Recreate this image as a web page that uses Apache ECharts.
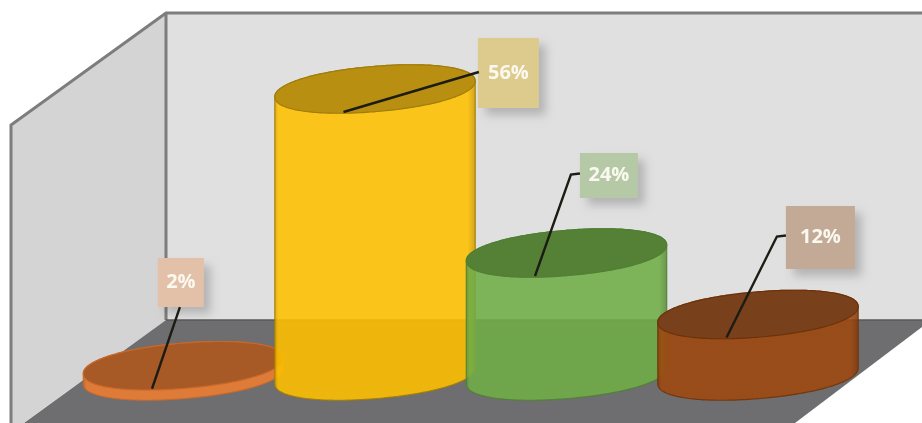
<!DOCTYPE html>
<html>
<head>
<meta charset="utf-8">
<style>
html,body{margin:0;padding:0;background:#fff;}
#c{width:922px;height:423px;filter:blur(0.7px);}
</style>
<script src="https://cdn.jsdelivr.net/npm/echarts@6/dist/echarts.min.js"></script>
</head>
<body>
<div id="c"></div>
<script>
const categories = ['A', 'B', 'C', 'D'];
const values = [2, 56, 24, 12];
const sideColors = ['#ed7d31', '#ffc000', '#70ad47', '#9e480e'];
const topColors = ['#a85a26', '#b98f12', '#558137', '#78411b'];
const edgeColors = ['#c8682a', '#a07c08', '#4f7f33', '#6e320a'];
const boxColors = ['#e3c0a8', '#dccb8d', '#b5c9a7', '#c3aa96'];
const boxDx = [-25.6, 102.9, 13.4, 27.9];
const boxDy = [-107.7, -51, -100, -108.5];
const boxW = [46, 61, 58, 69];
const boxH = [49, 70, 45, 63];
const leaderStyle = ['bottom', 'left', 'elbow', 'elbow'];

const tilt = -4.8 * Math.PI / 180;
const ryPixels = 22.6;
const rxRatio = 0.525;
const roundness = 0.95;
const STEPS = 240;

function ringPoints(cx, cy, rx, ry) {
  const pts = [];
  for (let i = 0; i < STEPS; i++) {
    const t = 2 * Math.PI * i / STEPS;
    const c = Math.cos(t), s = Math.sin(t);
    const u = rx * Math.sign(c) * Math.pow(Math.abs(c), roundness);
    const v = ry * Math.sign(s) * Math.pow(Math.abs(s), roundness);
    pts.push([
      cx + u * Math.cos(tilt) - v * Math.sin(tilt),
      cy + u * Math.sin(tilt) + v * Math.cos(tilt)
    ]);
  }
  return pts;
}
function slice(pts, from, count) {
  const out = [];
  for (let i = 0; i <= count; i++) out.push(pts[(from + i) % STEPS]);
  return out;
}
function shade(hex, k) {
  const n = parseInt(hex.slice(1), 16);
  const f = v => Math.min(255, Math.round(v * k));
  return 'rgb(' + f(n >> 16) + ',' + f((n >> 8) & 255) + ',' + f(n & 255) + ')';
}

function renderItem(params, api) {
  const i = params.dataIndex;
  const base = api.coord([api.value(0), 0]);
  const top = api.coord([api.value(0), api.value(1)]);
  const cx = base[0];
  const rx = api.size([1, 0])[0] * rxRatio;
  const baseRing = ringPoints(cx, base[1], rx, ryPixels);
  const topRing = ringPoints(cx, top[1], rx, ryPixels);
  let maxI = 0;
  baseRing.forEach((p, k) => { if (p[0] > baseRing[maxI][0]) maxI = k; });
  const body = slice(baseRing, maxI, STEPS / 2).concat(slice(topRing, maxI + STEPS / 2, STEPS / 2));
  const c = sideColors[i];
  const bx = cx + boxDx[i], by = top[1] + boxDy[i], bw = boxW[i], bh = boxH[i];
  const start = [cx - 31.5, top[1] + 23];
  let pts;
  if (leaderStyle[i] === 'bottom') pts = [start, [bx + bw / 2 - 1, by + bh]];
  else if (leaderStyle[i] === 'left') pts = [start, [bx + 1, by + bh / 2 - 1]];
  else pts = [start, [bx - 9, by + bh / 2 - 1], [bx, by + bh / 2 - 2]];
  return {
    type: 'group',
    children: [
      {
        type: 'polygon',
        shape: { points: body },
        style: {
          fill: new echarts.graphic.LinearGradient(0, 0, 1, 0, [
            { offset: 0, color: shade(c, 0.82) },
            { offset: 0.02, color: c },
            { offset: 0.96, color: c },
            { offset: 1, color: shade(c, 0.8) }
          ]),
          stroke: edgeColors[i],
          lineWidth: 1.2,
          opacity: 0.88
        }
      },
      {
        type: 'polygon',
        shape: { points: topRing },
        style: { fill: topColors[i], stroke: edgeColors[i], lineWidth: 1.2 }
      },
      {
        type: 'rect',
        shape: { x: bx, y: by, width: bw, height: bh },
        style: {
          fill: boxColors[i],
          shadowBlur: 9,
          shadowOffsetX: 7,
          shadowOffsetY: 7,
          shadowColor: 'rgba(0,0,0,0.2)'
        }
      },
      {
        type: 'polyline',
        shape: { points: pts },
        style: { fill: 'none', stroke: '#1c1c14', lineWidth: 2.4 }
      },
      {
        type: 'text',
        style: {
          x: bx + bw / 2,
          y: by + bh / 2,
          text: api.value(1) + '%',
          fill: '#fbf8f0',
          font: 'bold 20px "Open Sans", sans-serif',
          align: 'center',
          verticalAlign: 'middle'
        }
      }
    ]
  };
}

const wallLine = '#7d7d7d';
const chart = echarts.init(document.getElementById('c'), null, { renderer: 'canvas' });
chart.setOption({
  animation: false,
  backgroundColor: '#ffffff',
  grid: { left: 87.75, width: 766, top: 68.5, bottom: 47 },
  xAxis: { type: 'category', data: categories, show: false },
  yAxis: { type: 'value', min: 0, max: 60, show: false },
  graphic: { elements: [
    { type: 'polygon', z: -5, shape: { points: [[166, 13], [922, 13], [922, 320], [166, 320]] },
      style: { fill: '#e0e0e0' } },
    { type: 'polygon', z: -5, shape: { points: [[11, 125], [166, 13], [166, 320], [11, 432]] },
      style: { fill: '#d4d4d4' } },
    { type: 'polygon', z: -4, shape: { points: [[166, 320], [922, 320], [922, 327], [795, 423], [24, 423]] },
      style: { fill: '#6e6d6f' } },
    { type: 'polyline', z: -3, shape: { points: [[922, 13], [166, 13], [11, 125], [11, 423]] },
      style: { fill: 'none', stroke: wallLine, lineWidth: 3 } },
    { type: 'polyline', z: -3, shape: { points: [[166, 13], [166, 320]] },
      style: { fill: 'none', stroke: wallLine, lineWidth: 3 } },
    { type: 'polyline', z: -3, shape: { points: [[166, 320], [922, 320]] },
      style: { fill: 'none', stroke: '#5a5a5a', lineWidth: 1.5 } }
  ] },
  series: [{
    type: 'custom',
    renderItem: renderItem,
    encode: { x: 0, y: 1 },
    data: values.map((v, i) => [i, v]),
    clip: false
  }]
});
</script>
</body>
</html>
